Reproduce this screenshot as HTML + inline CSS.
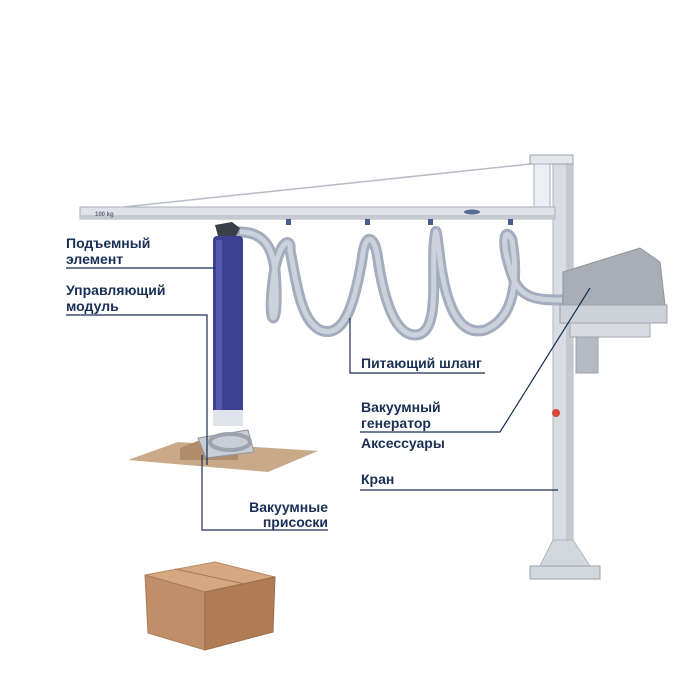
<!DOCTYPE html>
<html><head><meta charset="utf-8"><style>
body{margin:0;background:#fff;width:700px;height:700px;overflow:hidden}
svg{display:block}
text{font-family:"Liberation Sans","DejaVu Sans",sans-serif;font-weight:bold;font-size:14px;fill:#1a2f55}
</style></head><body>
<svg width="700" height="700" viewBox="0 0 700 700">
<line x1="105" y1="209" x2="540" y2="163" stroke="#b8bcc4" stroke-width="1.5"/>
<rect x="553" y="157" width="20" height="410" fill="#d8dce3" stroke="#b0b5bf"/>
<rect x="566" y="157" width="7" height="410" fill="#c3c8d1"/>
<rect x="530" y="155" width="43" height="9" fill="#e4e7ec" stroke="#9aa0aa"/>
<rect x="534" y="164" width="16" height="52" fill="#eceef2" stroke="#a8adb7"/>
<path d="M553 540 L540 566 L590 566 L573 540 Z" fill="#d3d7de" stroke="#b0b5bf"/>
<rect x="530" y="566" width="70" height="13" fill="#d3d7de" stroke="#9aa0aa"/>
<circle cx="556" cy="413" r="4" fill="#d9463a"/>
<rect x="80" y="207" width="475" height="12" fill="#dfe2e8" stroke="#a9aeb8"/>
<rect x="80" y="215" width="475" height="4" fill="#c4c9d2"/>
<text x="95" y="216" style="font-size:6px;fill:#667">100 kg</text>
<ellipse cx="472" cy="212" rx="8" ry="2.5" fill="#5a6b90"/>
<g fill="#4a5a8a"><rect x="286" y="219" width="5" height="6"/><rect x="365" y="219" width="5" height="6"/><rect x="428" y="219" width="5" height="6"/><rect x="508" y="219" width="5" height="6"/></g>
<path d="M240 232 C262 232 272 245 275 270 C280 330 268 330 272 290 C276 240 292 235 290 250 C296 280 300 320 320 330 C345 340 355 300 362 260 C365 230 375 235 378 260 C384 300 395 335 415 335 C440 335 432 280 434 245 C436 225 436 225 440 260 C448 320 465 335 485 330 C510 320 520 290 512 240 C505 225 500 240 512 275 C520 300 540 300 562 300" fill="none" stroke="#a3adbd" stroke-width="11" stroke-linecap="round"/>
<path d="M240 232 C262 232 272 245 275 270 C280 330 268 330 272 290 C276 240 292 235 290 250 C296 280 300 320 320 330 C345 340 355 300 362 260 C365 230 375 235 378 260 C384 300 395 335 415 335 C440 335 432 280 434 245 C436 225 436 225 440 260 C448 320 465 335 485 330 C510 320 520 290 512 240 C505 225 500 240 512 275 C520 300 540 300 562 300" fill="none" stroke="#ccd2dc" stroke-width="5"/>
<path d="M563 272 L640 248 L660 262 L665 305 L563 312 Z" fill="#a9aeb6" stroke="#8e939c"/>
<rect x="560" y="305" width="107" height="18" fill="#cdd1d8" stroke="#9aa0aa"/>
<rect x="570" y="323" width="80" height="14" fill="#d8dce2" stroke="#a5aab3"/>
<rect x="576" y="337" width="22" height="36" fill="#b5bac2" stroke="#9aa0aa"/>
<path d="M215 225 L232 222 L240 228 L236 236 L218 236 Z" fill="#3b3f4a"/>
<rect x="213" y="236" width="30" height="190" rx="4" fill="#3c3f92"/>
<rect x="216" y="240" width="6" height="180" fill="#5558a8"/>
<rect x="213" y="410" width="30" height="16" fill="#dfe3ea"/>
<path d="M128 460 L178 442 L318 451 L268 472 Z" fill="#c9a988"/>
<path d="M180 448 L200 440 L238 444 L238 460 L180 460 Z" fill="#b08c6a"/>
<path d="M198 438 L248 430 L254 452 L206 458 Z" fill="#c8cdd6" stroke="#8e949e"/>
<ellipse cx="230" cy="442" rx="20" ry="8" fill="none" stroke="#9ca3ae" stroke-width="4"/>
<path d="M145 575 L215 562 L275 577 L205 592 Z" fill="#d5a882" stroke="#b68a66"/>
<path d="M145 575 L205 592 L205 650 L148 633 Z" fill="#c08e68" stroke="#a97a57"/>
<path d="M205 592 L275 577 L273 632 L205 650 Z" fill="#b07c56" stroke="#9a6c4a"/>
<line x1="175" y1="569" x2="245" y2="584" stroke="#a97a57"/>
<g stroke="#1a2f55" stroke-width="1.2" fill="none">
<path d="M66 268 H215"/>
<path d="M66 315 H207 V465"/>
<path d="M202 455 V530 H328"/>
<path d="M350 318 V373 H485"/>
<path d="M360 432 H500 L590 288"/>
<path d="M360 490 H558"/>
</g>
<text x="66" y="248">Подъемный</text>
<text x="66" y="264">элемент</text>
<text x="66" y="295">Управляющий</text>
<text x="66" y="311">модуль</text>
<text x="328" y="512" text-anchor="end">Вакуумные</text>
<text x="328" y="527" text-anchor="end">присоски</text>
<text x="361" y="368">Питающий шланг</text>
<text x="361" y="412">Вакуумный</text>
<text x="361" y="428">генератор</text>
<text x="361" y="448">Аксессуары</text>
<text x="361" y="484">Кран</text>
</svg>
</body></html>
